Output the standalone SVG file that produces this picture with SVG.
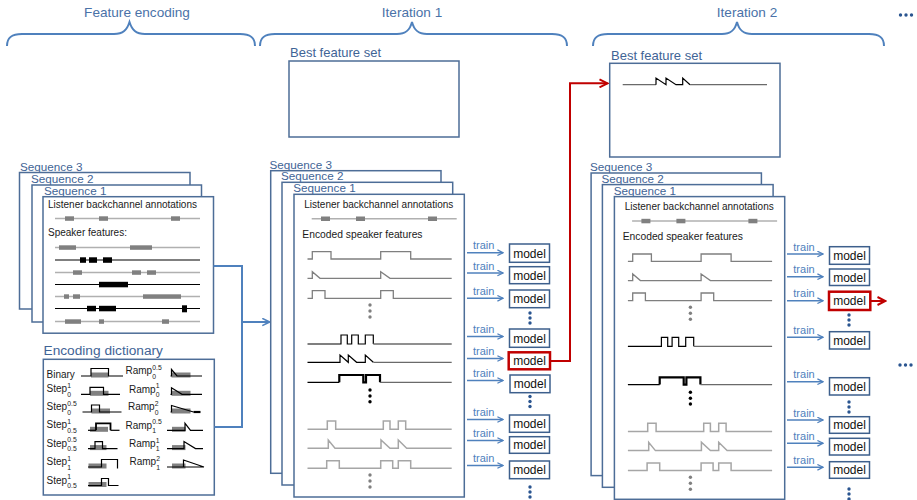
<svg xmlns="http://www.w3.org/2000/svg" xmlns:xlink="http://www.w3.org/1999/xlink" width="917" height="500" viewBox="0 0 917 500">
<defs>
<style>
text{font-family:"Liberation Sans",Arial,Helvetica,sans-serif}
.hdr{font-size:13.6px;fill:#4a72a8;text-anchor:middle}
.seq{font-size:11.7px;fill:#3f6496}
.bfs{font-size:13px;fill:#3f6496}
.t10{font-size:10px;fill:#1a1a1a}
.dl{font-size:10px;fill:#1a1a1a}
.ds{font-size:6.8px;fill:#1a1a1a}
.train{font-size:11px;fill:#4f81bd}
.model{font-size:12px;fill:#111;text-anchor:middle}
.box{fill:#fff;stroke:#4d6d97;stroke-width:1.5}
.brace{fill:none;stroke:#4f81bd;stroke-width:2}
.conn{fill:none;stroke:#4f81bd;stroke-width:2}
.tarr{fill:none;stroke:#4f81bd;stroke-width:1.5}
.mbox{fill:#fff;stroke:#3d5f8c;stroke-width:1.5}
.rbox{fill:#fff;stroke:#c00000;stroke-width:2.5}
.rline{fill:none;stroke:#c00000;stroke-width:2}
.wg{fill:none;stroke:#7f7f7f;stroke-width:1.3}
.wl{fill:none;stroke:#a6a6a6;stroke-width:1.5}
.wk{fill:none;stroke:#000;stroke-width:1.2}
.wd{fill:none;stroke:#6a6a6a;stroke-width:1.3}
.gl{fill:none;stroke:#b0b0b0;stroke-width:1.5}
.kl{fill:none;stroke:#000;stroke-width:1.1}
.gb{fill:#808080}
.kb{fill:#000}
.dot{fill:#2a5590}
.gdot{fill:#808080}
.kdot{fill:#000}
</style>
<marker id="ab" viewBox="0 0 10 10" refX="9" refY="5" markerWidth="9" markerHeight="9" markerUnits="userSpaceOnUse" orient="auto"><path d="M1,1 L9,5 L1,9" fill="none" stroke="#4f81bd" stroke-width="1.8"/></marker>
<marker id="at" viewBox="0 0 10 10" refX="9" refY="5" markerWidth="7" markerHeight="7" markerUnits="userSpaceOnUse" orient="auto"><path d="M1,1 L9,5 L1,9" fill="none" stroke="#4f81bd" stroke-width="1.8"/></marker>
<marker id="ar" viewBox="0 0 10 10" refX="9" refY="5" markerWidth="10" markerHeight="10" markerUnits="userSpaceOnUse" orient="auto"><path d="M1,1 L9,5 L1,9" fill="none" stroke="#c00000" stroke-width="2"/></marker>
<g id="stack">
  <text class="seq" x="269.5" y="168.7">Sequence 3</text>
  <rect class="box" x="270.7" y="170.7" width="170.3" height="302.6"/>
  <text class="seq" x="281" y="180.3">Sequence 2</text>
  <rect class="box" x="282" y="182.3" width="170.7" height="302.7"/>
  <text class="seq" x="293.3" y="192.3">Sequence 1</text>
  <rect class="box" x="294" y="194.3" width="170.3" height="302.7"/>
  <text class="t10" x="304.3" y="207.8">Listener backchannel annotations</text>
  <path class="gl" d="M311.7,218.7 H456.7"/>
  <rect class="gb" x="321" y="216.5" width="9" height="4.5"/>
  <rect class="gb" x="356" y="216.5" width="9" height="4.5"/>
  <rect class="gb" x="428" y="216.5" width="9" height="4.5"/>
  <text class="t10" x="302.3" y="238" style="font-size:10.3px">Encoded speaker features</text>
  <path class="wg" d="M307.5,259 H312.3 V251.7 H331 V259 H380.7 V251.7 H410.7 V259 H451.7"/>
  <path class="wg" d="M307.5,278.3 H312.3 V271.7 L320,278.3 H380.7 V271.7 L390,278.3 H451.7"/>
  <path class="wg" d="M307.5,298.3 H312.3 V290.7 H325 V298.3 H380.7 V290.7 H393.3 V298.3 H451.7"/>
  <circle class="gdot" cx="370" cy="305" r="1.7"/><circle class="gdot" cx="370" cy="311" r="1.7"/><circle class="gdot" cx="370" cy="317" r="1.7"/>
  <path class="wk" d="M307.5,344 H341 V335 H347.3 V344 H351.7 V335 H358.3 V344 H365.3 V335 H373.3 V344"/>
  <path class="wd" d="M373.3,344 H451.7"/>
  <path class="wk" d="M307.5,382.3 H339.3"/>
  <path class="wk" style="stroke-width:2.2" d="M339.3,382.3 V375 H363.3 V382.3 H366 V375 H380 V382.3"/>
  <path class="wd" d="M380,382.3 H451.7"/>
  <circle class="kdot" cx="370" cy="390" r="1.7"/><circle class="kdot" cx="370" cy="396" r="1.7"/><circle class="kdot" cx="370" cy="401.7" r="1.7"/>
  <path class="wl" d="M307.5,429.3 H327.3 V421 H335.7 V429.3 H383.3 V421 H390 V429.3 H398.3 V421 H405.7 V429.3 H451.7"/>
  <path class="wl" d="M307.5,448.3 H328.3 V440 L335,448.3 H381 V440 L390,448.3 H398.3 V440 L406.7,448.3 H451.7"/>
  <path class="wl" d="M307.5,468.3 H326.7 V460.7 H339.3 V468.3 H380.7 V460.7 H392.7 V468.3 H398.3 V460.7 H410.7 V468.3 H451.7"/>
  <circle class="gdot" cx="370" cy="475" r="1.7"/><circle class="gdot" cx="370" cy="481" r="1.7"/><circle class="gdot" cx="370" cy="487" r="1.7"/>
</g>
</defs>

<rect width="917" height="500" fill="#fff"/>

<g id="headers">
  <text class="hdr" x="137" y="17">Feature encoding</text>
  <text class="hdr" x="412" y="17">Iteration 1</text>
  <text class="hdr" x="747" y="17">Iteration 2</text>
  <circle class="dot" cx="900.5" cy="15" r="1.7"/><circle class="dot" cx="906" cy="15" r="1.7"/><circle class="dot" cx="911.5" cy="15" r="1.7"/>
  <path class="brace" d="M7,46 C7,38 11,34 22,34 L114,34 C123,34 127,30 129.5,22 C132,30 136,34 145,34 L240,34 C251,34 255,38 255,46"/>
  <path class="brace" d="M260,46 C260,38 264,34 275,34 L397,34 C406,34 410,30 412,22 C414,30 418,34 427,34 L552,34 C563,34 567,38 567,46"/>
  <path class="brace" d="M593,46 C593,38 597,34 608,34 L722,34 C731,34 735,30 737,22 C739,30 743,34 752,34 L869,34 C880,34 884,38 884,46"/>
</g>

<g id="fe-sequences">
  <text class="seq" x="20" y="170.5">Sequence 3</text>
  <rect class="box" x="19.5" y="172.5" width="170.5" height="136.5"/>
  <text class="seq" x="31" y="182.8">Sequence 2</text>
  <rect class="box" x="32" y="185" width="169.5" height="137"/>
  <text class="seq" x="44" y="194.8">Sequence 1</text>
  <rect class="box" x="43" y="196.7" width="170.5" height="136.5"/>
  <text class="t10" x="48" y="207.8">Listener backchannel annotations</text>
  <path class="gl" d="M55,218.5 H200"/>
  <rect class="gb" x="65" y="216.3" width="9" height="4.5"/>
  <rect class="gb" x="99" y="216.3" width="9" height="4.5"/>
  <rect class="gb" x="171" y="216.3" width="9" height="4.5"/>
  <text class="t10" x="48" y="236">Speaker features:</text>
  <path class="gl" d="M55,247.5 H200"/>
  <rect class="gb" x="59" y="245.3" width="17" height="4.5"/><rect class="gb" x="130" y="245.3" width="22" height="4.5"/>
  <path class="kl" d="M55,260 H200"/>
  <rect class="kb" x="80" y="257.3" width="6" height="5.5"/><rect class="kb" x="89" y="257.3" width="8" height="5.5"/><rect class="kb" x="103" y="257.3" width="9" height="5.5"/>
  <path class="gl" d="M55,272.5 H200"/>
  <rect class="gb" x="73" y="270.3" width="9" height="4.5"/><rect class="gb" x="132" y="270.3" width="9" height="4.5"/><rect class="gb" x="147" y="270.3" width="9" height="4.5"/>
  <path class="kl" d="M55,284.5 H200"/>
  <rect class="kb" x="99" y="281.8" width="29" height="5.5"/>
  <path class="gl" d="M55,296.5 H200"/>
  <rect class="gb" x="64" y="294.3" width="5" height="4.5"/><rect class="gb" x="73" y="294.3" width="7" height="4.5"/><rect class="gb" x="143" y="294.3" width="38" height="4.5"/>
  <path class="kl" d="M55,308.5 H200"/>
  <rect class="kb" x="87" y="305.8" width="9" height="5.5"/><rect class="kb" x="99" y="305.8" width="17" height="5.5"/><rect class="kb" x="182" y="305.3" width="5" height="7"/>
  <path class="gl" d="M55,321.5 H200"/>
  <rect class="gb" x="65" y="319.3" width="16" height="4.5"/><rect class="gb" x="99" y="319.3" width="5" height="4.5"/><rect class="gb" x="162" y="319.3" width="7" height="4.5"/>
</g>

<g id="encoding-dictionary">
  <text class="hdr" x="43.5" y="355" style="text-anchor:start;fill:#3f6496;font-size:13.7px">Encoding dictionary</text>
  <rect class="box" x="43.3" y="359.3" width="171" height="135.7"/>
  <g id="dict-step">
    <text class="dl" x="46.5" y="377.5">Binary</text>
    <text class="dl" x="46.5" y="392.3">Step<tspan class="ds" x="67.3" y="388">1</tspan><tspan class="ds" x="67.3" y="396.8">0</tspan></text>
    <text class="dl" x="46.5" y="410">Step<tspan class="ds" x="67.3" y="405.7">0.5</tspan><tspan class="ds" x="67.3" y="414.5">0</tspan></text>
    <text class="dl" x="46.5" y="428.3">Step<tspan class="ds" x="67.3" y="424">1</tspan><tspan class="ds" x="67.3" y="432.8">0.5</tspan></text>
    <text class="dl" x="46.5" y="446.6">Step<tspan class="ds" x="67.3" y="442.3">0.5</tspan><tspan class="ds" x="67.3" y="451.1">0.5</tspan></text>
    <text class="dl" x="46.5" y="465">Step<tspan class="ds" x="67.3" y="460.7">1</tspan><tspan class="ds" x="67.3" y="469.5">1</tspan></text>
    <text class="dl" x="46.5" y="483.5">Step<tspan class="ds" x="67.3" y="479.2">1</tspan><tspan class="ds" x="67.3" y="488">0.5</tspan></text>
    <rect class="gb" x="91" y="372.5" width="17.5" height="5"/>
    <path class="wk" d="M81,376 H91 V368.5 H108.5 V376 H123"/>
    <rect class="gb" x="90" y="390.8" width="18.5" height="5"/>
    <path class="wk" d="M81,394.3 H90 V387.3 H103.5 V394.3 H120"/>
    <rect class="gb" x="91.5" y="408.5" width="18.5" height="5"/>
    <path class="wk" d="M82.5,412 H91.5 V405 H99.5 V412 H121.5"/>
    <rect class="gb" x="90" y="426.8" width="18" height="5"/>
    <path class="wk" d="M88,430.3 H96"/>
    <path class="wk" style="stroke-width:1.8" d="M96,430.3 V423.3 H110.5 V430.3"/>
    <path class="wk" d="M110.5,430.3 H119.5"/>
    <rect class="gb" x="90" y="445.1" width="16.5" height="5"/>
    <path class="wk" d="M88,448.6 H95 V441.6 H102.5 V448.6 H117.5"/>
    <rect class="gb" x="88.5" y="463.5" width="18" height="5"/>
    <path class="wk" d="M88,467 H101.5 V459.5 H117.5 V468.5"/>
    <rect class="gb" x="88.5" y="482" width="18" height="5"/>
    <path class="wk" d="M88,485.5 H101.5 V478.5 H108.5 V485.5 H118.5"/>
  </g>
  <g id="dict-ramp">
    <text class="dl" x="125.5" y="374.3">Ramp<tspan class="ds" x="152.3" y="370">0.5</tspan><tspan class="ds" x="152.3" y="378.8">0</tspan></text>
    <text class="dl" x="129" y="392.6">Ramp<tspan class="ds" x="155.8" y="388.3">1</tspan><tspan class="ds" x="155.8" y="397.1">0</tspan></text>
    <text class="dl" x="128" y="410.3">Ramp<tspan class="ds" x="154.8" y="406">2</tspan><tspan class="ds" x="154.8" y="414.8">0</tspan></text>
    <text class="dl" x="125.5" y="428.6">Ramp<tspan class="ds" x="152.3" y="424.3">0.5</tspan><tspan class="ds" x="152.3" y="433.1">1</tspan></text>
    <text class="dl" x="129" y="446.9">Ramp<tspan class="ds" x="155.8" y="442.6">1</tspan><tspan class="ds" x="155.8" y="451.4">1</tspan></text>
    <text class="dl" x="129.5" y="465.3">Ramp<tspan class="ds" x="156.3" y="461">2</tspan><tspan class="ds" x="156.3" y="469.8">1</tspan></text>
    <rect class="gb" x="171.5" y="372.5" width="19" height="5"/>
    <path class="wk" d="M170.5,376 H171.5 V369.5 L177,376 H202"/>
    <rect class="gb" x="171.5" y="390.8" width="19" height="5"/>
    <path class="wk" d="M170.5,394.3 H171.5 V387.8 L182,394.3 H202"/>
    <rect class="gb" x="171.5" y="408.5" width="19" height="5"/>
    <path class="wk" d="M170.5,412 H171.5 V405.5 L193.5,412"/>
    <path class="wk" style="stroke-width:2.2" d="M193.5,412 H200.5"/>
    <rect class="gb" x="172" y="426.8" width="13.5" height="5"/>
    <path class="wk" d="M167,430.3 H185 V423.3 L190.5,430.3 H203"/>
    <rect class="gb" x="172" y="445.1" width="13.5" height="5"/>
    <path class="wk" d="M167,448.6 H184 V441.6 L195.5,448.6 H203"/>
    <rect class="gb" x="172" y="463.5" width="13.5" height="5"/>
    <path class="wk" d="M167,467 H204 M183.5,467 V460 L204,467"/>
  </g>
</g>

<g id="iter1-best">
  <text class="bfs" x="290" y="57">Best feature set</text>
  <rect class="box" x="289" y="61" width="170" height="76"/>
</g>

<g id="iter2-best">
  <text class="bfs" x="611" y="59.5">Best feature set</text>
  <rect class="box" x="609.7" y="63.3" width="170.3" height="93.7"/>
  <path class="wd" d="M622.7,84.7 H656"/>
  <path class="wk" d="M656,84.7 V78 L666,84.7 V78 L676,84.7 H682.7 V78 L690,84.7"/>
  <path class="wd" d="M690,84.7 H767"/>
</g>

<g id="iter1-sequences">
  <use xlink:href="#stack" href="#stack"/>
  <path class="wk" d="M307.5,362.3 H340 V355 L348.3,362.3 V355 L356.6,362.3 H365.3 V355 L373.3,362.3"/>
  <path class="wd" d="M373.3,362.3 H451.7"/>
</g>

<g id="iter2-sequences">
  <use xlink:href="#stack" href="#stack" transform="translate(320.4,2.3)"/>
</g>

<g id="connectors">
  <path class="conn" d="M213.5,266 H242 V427 H214.3"/>
  <path class="conn" d="M242,322 H269.5" marker-end="url(#ab)"/>
  <g id="iter1-train">
    <text class="train" x="473" y="249.2">train</text><path class="tarr" d="M467,252.7 H503" marker-end="url(#at)"/>
    <text class="train" x="473" y="269.5">train</text><path class="tarr" d="M467,273 H503" marker-end="url(#at)"/>
    <text class="train" x="473" y="294.8">train</text><path class="tarr" d="M467,298.3 H503" marker-end="url(#at)"/>
    <text class="train" x="473" y="333">train</text><path class="tarr" d="M467,336.5 H503" marker-end="url(#at)"/>
    <text class="train" x="473" y="355">train</text><path class="tarr" d="M467,358.5 H503" marker-end="url(#at)"/>
    <text class="train" x="473" y="377">train</text><path class="tarr" d="M467,380.5 H503" marker-end="url(#at)"/>
    <text class="train" x="473" y="416">train</text><path class="tarr" d="M467,419.5 H503" marker-end="url(#at)"/>
    <text class="train" x="473" y="437">train</text><path class="tarr" d="M467,440.5 H503" marker-end="url(#at)"/>
    <text class="train" x="473" y="462">train</text><path class="tarr" d="M467,465.5 H503" marker-end="url(#at)"/>
  </g>
  <g id="iter2-train">
    <text class="train" x="793.3" y="250.5">train</text><path class="tarr" d="M787,254 H823" marker-end="url(#at)"/>
    <text class="train" x="793.3" y="273.2">train</text><path class="tarr" d="M787,276.7 H823" marker-end="url(#at)"/>
    <text class="train" x="793.3" y="297.2">train</text><path class="tarr" d="M787,300.7 H823" marker-end="url(#at)"/>
    <text class="train" x="793.3" y="333.8">train</text><path class="tarr" d="M787,337.3 H823" marker-end="url(#at)"/>
    <text class="train" x="793.3" y="378.2">train</text><path class="tarr" d="M787,381.7 H823" marker-end="url(#at)"/>
    <text class="train" x="793.3" y="416.5">train</text><path class="tarr" d="M787,420 H823" marker-end="url(#at)"/>
    <text class="train" x="793.3" y="439.8">train</text><path class="tarr" d="M787,443.3 H823" marker-end="url(#at)"/>
    <text class="train" x="793.3" y="463.8">train</text><path class="tarr" d="M787,467.3 H823" marker-end="url(#at)"/>
  </g>
  <path class="rline" d="M550.5,361 H570 V83.3 H607.5" marker-end="url(#ar)"/>
  <path class="rline" d="M871,301 H885.5" marker-end="url(#ar)"/>
</g>

<g id="iter1-models">
  <rect class="mbox" x="509.5" y="244" width="40" height="18.3"/><text class="model" x="529.5" y="257.5">model</text>
  <rect class="mbox" x="509.5" y="266.7" width="40" height="17"/><text class="model" x="529.5" y="279.5">model</text>
  <rect class="mbox" x="509.5" y="290" width="40" height="17.7"/><text class="model" x="529.5" y="303.2">model</text>
  <circle class="dot" cx="530" cy="313" r="1.7"/><circle class="dot" cx="530" cy="318" r="1.7"/><circle class="dot" cx="530" cy="323" r="1.7"/>
  <rect class="mbox" x="509.5" y="329" width="40" height="18.3"/><text class="model" x="529.5" y="342.5">model</text>
  <rect class="rbox" x="508.7" y="352.3" width="41.3" height="17"/><text class="model" x="529.5" y="365">model</text>
  <rect class="mbox" x="510" y="375" width="40" height="17.7"/><text class="model" x="530" y="388.2">model</text>
  <circle class="dot" cx="530" cy="396.5" r="1.7"/><circle class="dot" cx="530" cy="401.5" r="1.7"/><circle class="dot" cx="530" cy="406.5" r="1.7"/>
  <rect class="mbox" x="509.5" y="415" width="40" height="17.3"/><text class="model" x="529.5" y="428">model</text>
  <rect class="mbox" x="509.5" y="436.7" width="40" height="16.6"/><text class="model" x="529.5" y="449.3">model</text>
  <rect class="mbox" x="509.5" y="461" width="40" height="17.7"/><text class="model" x="529.5" y="474">model</text>
  <circle class="dot" cx="530" cy="487" r="1.7"/><circle class="dot" cx="530" cy="492" r="1.7"/><circle class="dot" cx="530" cy="497" r="1.7"/>
</g>

<g id="iter2-models">
  <rect class="mbox" x="829.5" y="246.7" width="40" height="17.6"/><text class="model" x="849.5" y="259.8">model</text>
  <rect class="mbox" x="829.5" y="269" width="40" height="16.5"/><text class="model" x="849.5" y="281.5">model</text>
  <rect class="rbox" x="829" y="291.7" width="41.3" height="18.3"/><text class="model" x="849.5" y="305.2">model</text>
  <circle class="dot" cx="849" cy="315" r="1.7"/><circle class="dot" cx="849" cy="320" r="1.7"/><circle class="dot" cx="849" cy="325" r="1.7"/>
  <rect class="mbox" x="829.5" y="331.7" width="40" height="17.3"/><text class="model" x="849.5" y="344.7">model</text>
  <rect class="mbox" x="829.5" y="377.7" width="40" height="17.3"/><text class="model" x="849.5" y="390.7">model</text>
  <circle class="dot" cx="849" cy="402" r="1.7"/><circle class="dot" cx="849" cy="407" r="1.7"/><circle class="dot" cx="849" cy="412" r="1.7"/>
  <rect class="mbox" x="829.5" y="416.7" width="40" height="16.6"/><text class="model" x="849.5" y="429.3">model</text>
  <rect class="mbox" x="829.5" y="438.3" width="40" height="16.7"/><text class="model" x="849.5" y="451">model</text>
  <rect class="mbox" x="829.5" y="461.7" width="40" height="16.6"/><text class="model" x="849.5" y="474.3">model</text>
  <circle class="dot" cx="849" cy="489" r="1.7"/><circle class="dot" cx="849" cy="494" r="1.7"/><circle class="dot" cx="849" cy="499" r="1.7"/>
  <circle class="dot" cx="900" cy="365" r="1.7"/><circle class="dot" cx="905.5" cy="365" r="1.7"/><circle class="dot" cx="911" cy="365" r="1.7"/>
</g>
</svg>
